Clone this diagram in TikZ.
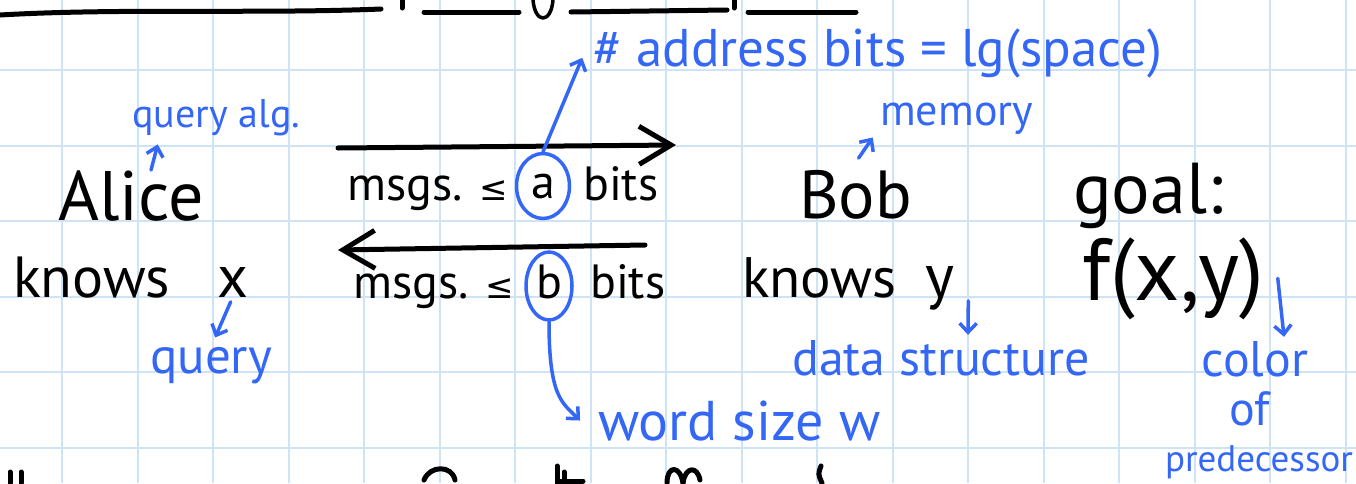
\documentclass[tikz,border=0pt]{standalone}
\usepackage{fontspec}
\setmainfont{PT Sans}
\newfontfamily\symfont{DejaVu Sans}
\usepackage{tikz}
\usetikzlibrary{arrows.meta,shapes.geometric}
\definecolor{pen}{RGB}{52,103,246}
\definecolor{paper}{RGB}{206,228,246}

\begin{document}
\begin{tikzpicture}[x=1pt,y=-1pt,
    ink/.style={black,inner sep=0pt,anchor=base west,font=\fontsize{#1}{#1}\selectfont},
    note/.style={pen,inner sep=0pt,anchor=base west,font=\fontsize{#1}{#1}\selectfont},
    ring/.style={ellipse,draw=pen,line width=3.5pt,inner sep=0pt,
                 text height=24pt,text depth=0pt,font=\fontsize{48}{48}\selectfont},
    flow/.style={line width=5pt,line cap=round,-{Straight Barb[length=32pt,width=38pt]}},
    lead/.style={pen,line width=3.5pt,line cap=round,-{Straight Barb[length=9pt,width=17pt]}},
    stroke/.style={line width=5pt,line cap=round,line join=round}]
  \useasboundingbox (0,0) rectangle (1356,483);
  \clip (0,0) rectangle (1356,483);
  \fill[white] (0,0) rectangle (1356,483);
  % squared paper
  \foreach \i in {0,...,17}
    \draw[paper,line width=2pt] ({62+75.5*\i},0) -- ({62+75.5*\i},483);
  \foreach \j in {0,...,5}
    \draw[paper,line width=2pt] (0,{70+75.5*\j}) -- (1356,{70+75.5*\j});

  % cut-off writing above and below
  \draw[stroke] (0,15) .. controls (120,8) and (260,14) .. (381,9);
  \draw[stroke] (402,0) -- (402,8);
  \draw[stroke] (424,12) -- (519,12);
  \draw[stroke,line width=3.5pt] (533,0) .. controls (535,24) and (551,24) .. (553,0);
  \draw[stroke] (571,12) -- (727,10);
  \draw[stroke] (734,0) -- (734,8);
  \draw[stroke] (748,12) -- (856,12);
  \draw[stroke] (10,472) -- (10,483);
  \draw[stroke] (21,472) -- (21,483);
  \draw[stroke] (424,480) .. controls (430,465) and (452,465) .. (455,480);
  \draw[stroke] (557,466) -- (557,483);
  \draw[stroke] (564,472) -- (564,483);
  \draw[stroke] (558,481) -- (583,481);
  \draw[stroke] (667,483) .. controls (667,465) and (680,465) .. (683,483);
  \draw[stroke] (683,483) .. controls (685,467) and (697,465) .. (700,480);
  \draw[stroke] (821,466) .. controls (818,474) .. (822,483);

  % the two players
  \node[ink=70] (alice) at (58,220) {Alice};
  \node[ink=58] (knowsA) at (13,297) {knows};
  \node[ink=60] (xvar) at (217,297) {x};
  \node[ink=68] (bob) at (799,218) {Bob};
  \node[ink=57] (knowsB) at (742,297) {knows};
  \node[ink=62] (yvar) at (925,297) {y};
  \node[ink=72] (goal) at (1073,213) {goal:};
  \node[ink=88] (fxy) at (1082,300) {f(x,y)};

  % messages both ways
  \coordinate (fwdStart) at (338,148);
  \coordinate (fwdEnd) at (676,145);
  \coordinate (backStart) at (645,245);
  \coordinate (backEnd) at (338,250);
  \draw[flow] (fwdStart) -- (fwdEnd);
  \draw[flow] (backStart) -- (backEnd);
  \node[ink=48] (msgsA) at (347,200) {msgs. {\symfont\fontsize{34}{34}\selectfont ≤}};
  \node[ring,minimum width=53pt,minimum height=65pt] (aBit) at (543,186) {a};
  \node[ink=48] (bitsA) at (583,200) {bits};
  \node[ink=48] (msgsB) at (353,298) {msgs. {\symfont\fontsize{34}{34}\selectfont ≤}};
  \node[ring,minimum width=46pt,minimum height=68pt] (bBit) at (549,286) {b};
  \node[ink=48] (bitsB) at (590,298) {bits};

  % blue notes
  \node[note=53] (addr) at (593,66) {\# address bits = lg(space)};
  \node[note=44] (memory) at (880,125) {memory};
  \node[note=40] (queryAlg) at (132,127) {query alg.};
  \node[note=51] (query) at (150,373) {query};
  \node[note=50] (dataS) at (792,375) {data structure};
  \node[note=56] (wordS) at (598,440) {word size w};
  \node[note=50,anchor=base] (colorN) at (1255,376) {color};
  \node[note=48,anchor=base] (ofN) at (1250,425) {of};
  \node[note=37,anchor=base] (predN) at (1259,471) {predecessor};

  \draw[lead,shorten >=9pt] ([xshift=20pt]alice.north) -- ([xshift=28pt]queryAlg.south west);
  \draw[lead,shorten >=2pt] (aBit.north) -- ([shift={(-10,3)}]addr.west);
  \draw[lead,shorten <=14pt,shorten >=4pt] ([xshift=-5pt]bob.north) -- ([xshift=-5pt]memory.south west);
  \draw[lead,shorten <=5pt,shorten >=10pt] (xvar.south) -- (query.north);
  \draw[lead] ([shift={(14,13)}]yvar.east) -- ([shift={(176,-5)}]dataS.north west);
  \draw[lead] ([shift={(14,0)}]fxy.east) -- ([shift={(29,-4)}]colorN.north);
  \draw[lead] (bBit.south) .. controls +(0,75) and +(-18,-18) .. ([xshift=-18pt]wordS.west);
\end{tikzpicture}
\end{document}
